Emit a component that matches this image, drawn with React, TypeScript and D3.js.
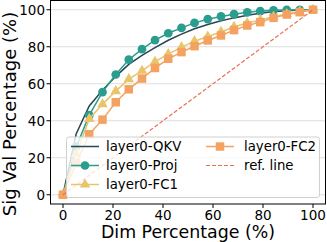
import * as d3 from "d3";

// x positions (Dim Percentage %) shared by every series
const dims = [0, 5.3, 10.5, 15.8, 21.1, 26.3, 31.6, 36.8, 42.1, 47.4, 52.6, 57.9, 63.2, 68.4, 73.7, 78.9, 84.2, 89.5, 94.7, 100];

const qkv = [0, 33, 48, 56.5, 64, 70.5, 75.3, 79.5, 83.5, 86.8, 89.7, 92, 94, 95.6, 97, 98.1, 99, 99.5, 99.8, 100];
const proj = [0, 26, 43, 55.5, 65, 73, 78.7, 83.6, 87.3, 90.2, 92.9, 94.9, 96.4, 97.6, 98.6, 99.3, 99.7, 99.9, 100, 100];
const fc1 = [0, 22, 41, 49, 56, 62.5, 67, 71.9, 76, 79.8, 83, 85.5, 88, 90.8, 92.8, 94.5, 96.2, 97.7, 99, 100];
const fc2 = [0, 17, 32.7, 40.6, 50, 57, 62.8, 68.5, 73.5, 77.1, 80.3, 83.4, 86.1, 89, 91.5, 93.3, 95.6, 97.4, 98.7, 100];
const refX = [0, 100];
const refY = [0, 100];

const xTicks = [0, 20, 40, 60, 80, 100];
const yTicks = [0, 20, 40, 60, 80, 100];

const FONT = "DejaVu Sans";

export default function App() {
  const width = 327;
  const height = 242;
  const x = d3.scaleLinear().domain([-5, 105]).range([50.5, 325.5]);
  const y = d3.scaleLinear().domain([-5, 105]).range([204, 0.5]);

  const line = d3.line<number>().x((d, i) => x(dims[i])).y(d => y(d));
  const refLine = d3.line<number>().x((d, i) => x(refX[i])).y(d => y(d));

  const circle = d3.symbol().type(d3.symbolCircle).size(60)();
  const tri = d3.symbol().type(d3.symbolTriangle).size(48)();
  const square = d3.symbol().type(d3.symbolSquare).size(72)();

  const series = [
    { name: "layer0-Proj", data: proj, color: "#2a9d8f", marker: circle },
    { name: "layer0-FC1", data: fc1, color: "#e9c46a", marker: tri },
    { name: "layer0-FC2", data: fc2, color: "#f4a261", marker: square },
  ];

  const rows = [146.5, 165.5, 184.5];

  return (
    <svg width={width} height={height} style={{ position: "absolute", left: 0, top: 0 }} fontFamily={FONT}>
      <rect width={width} height={height} fill="white" />
      {/* grid */}
      {yTicks.map(t => (
        <line key={t} x1={50.5} x2={325.5} y1={y(t)} y2={y(t)} stroke="#dedede" strokeWidth={1} />
      ))}

      {/* QKV solid line */}
      <path d={line(qkv) ?? ""} fill="none" stroke="#264653" strokeWidth={1.5} />

      {series.map(s => (
        <g key={s.name}>
          <path d={line(s.data) ?? ""} fill="none" stroke={s.color} strokeWidth={1.5} />
          {s.data.map((v, i) => (
            <path key={i} d={s.marker ?? ""} transform={`translate(${x(dims[i])},${y(v)})`} fill={s.color} />
          ))}
        </g>
      ))}

      <path d={refLine(refY) ?? ""} fill="none" stroke="#e76f51" strokeWidth={1.2} strokeDasharray="4,2" />

      {/* legend */}
      <rect x={66.5} y={137} width={253} height={60.5} rx={2.5} fill="white" fillOpacity={0.8} stroke="#d0d0d0" strokeWidth={1} />
      <g fontSize={13.3} fill="black">
        <line x1={71} x2={99} y1={rows[0]} y2={rows[0]} stroke="#264653" strokeWidth={1.5} />
        <text x={106} y={rows[0] + 4.8}>layer0-QKV</text>

        <line x1={71} x2={99} y1={rows[1]} y2={rows[1]} stroke="#2a9d8f" strokeWidth={1.5} />
        <path d={circle ?? ""} transform={`translate(85,${rows[1]})`} fill="#2a9d8f" />
        <text x={106} y={rows[1] + 4.8}>layer0-Proj</text>

        <line x1={71} x2={99} y1={rows[2]} y2={rows[2]} stroke="#e9c46a" strokeWidth={1.5} />
        <path d={tri ?? ""} transform={`translate(85,${rows[2]})`} fill="#e9c46a" />
        <text x={106} y={rows[2] + 4.8}>layer0-FC1</text>

        <line x1={206} x2={234} y1={rows[0]} y2={rows[0]} stroke="#f4a261" strokeWidth={1.5} />
        <path d={square ?? ""} transform={`translate(220,${rows[0]})`} fill="#f4a261" />
        <text x={244} y={rows[0] + 4.8}>layer0-FC2</text>

        <line x1={206} x2={234} y1={rows[1]} y2={rows[1]} stroke="#e76f51" strokeWidth={1.2} strokeDasharray="4,2" />
        <text x={244} y={rows[1] + 4.8}>ref. line</text>
      </g>

      {/* spines */}
      <rect x={50.5} y={0.5} width={275} height={203.5} fill="none" stroke="black" strokeWidth={1} />

      {/* ticks */}
      {xTicks.map(t => (
        <g key={t}>
          <line x1={x(t)} x2={x(t)} y1={204} y2={208} stroke="black" />
          <text x={x(t)} y={220} textAnchor="middle" fontSize={13.5}>{t}</text>
        </g>
      ))}
      {yTicks.map(t => (
        <g key={t}>
          <line x1={46.5} x2={50.5} y1={y(t)} y2={y(t)} stroke="black" />
          <text x={45} y={y(t) + 4.9} textAnchor="end" fontSize={13.5}>{t}</text>
        </g>
      ))}

      <text x={188} y={238} textAnchor="middle" fontSize={17.4}>Dim Percentage (%)</text>
      <text transform="translate(15.5,114) rotate(-90)" textAnchor="middle" fontSize={18}>Sig Val Percentage (%)</text>
    </svg>
  );
}
